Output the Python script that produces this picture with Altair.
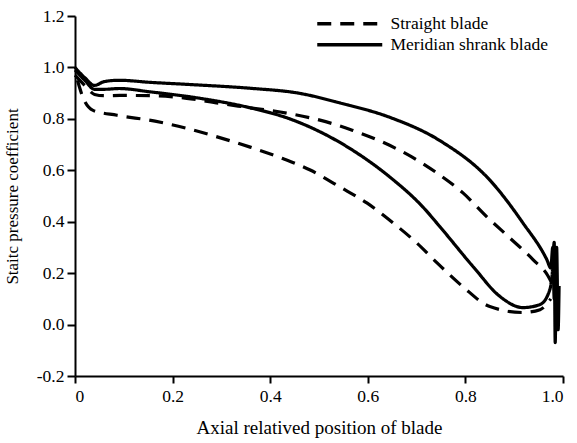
import altair as alt
import pandas as pd

# Meridian shrank blade - pressure side (upper solid)
ms_up_x = [0.0, 0.02, 0.04, 0.06, 0.09, 0.154, 0.25, 0.359, 0.461, 0.543, 0.645, 0.748, 0.85, 0.918, 0.967, 0.975, 0.979, 0.982, 0.985, 0.988]
ms_up_y = [1.0, 0.96, 0.93, 0.945, 0.95, 0.942, 0.932, 0.919, 0.899, 0.862, 0.806, 0.715, 0.562, 0.395, 0.252, 0.22, 0.30, 0.10, 0.28, 0.05]
# Meridian shrank blade - suction side (lower solid)
ms_lo_x = [0.0, 0.02, 0.04, 0.06, 0.09, 0.154, 0.256, 0.359, 0.44, 0.508, 0.578, 0.645, 0.713, 0.748, 0.816, 0.871, 0.918, 0.953, 0.973, 0.978, 0.982, 0.984, 0.987, 0.99, 0.992]
ms_lo_y = [0.99, 0.95, 0.915, 0.915, 0.918, 0.905, 0.88, 0.843, 0.8, 0.744, 0.667, 0.574, 0.457, 0.38, 0.225, 0.109, 0.066, 0.078, 0.136, 0.2, 0.32, -0.07, 0.3, -0.02, 0.15]
# Straight blade - pressure side (upper dashed)
st_up_x = [0.0, 0.02, 0.04, 0.06, 0.092, 0.16, 0.229, 0.297, 0.359, 0.434, 0.502, 0.568, 0.631, 0.691, 0.742, 0.795, 0.844, 0.891, 0.939, 0.969, 0.98]
st_up_y = [0.97, 0.93, 0.895, 0.89, 0.891, 0.89, 0.88, 0.86, 0.843, 0.822, 0.795, 0.756, 0.709, 0.651, 0.589, 0.512, 0.419, 0.337, 0.252, 0.19, 0.15]
# Straight blade - suction side (lower dashed)
st_lo_x = [0.005, 0.017, 0.037, 0.086, 0.164, 0.229, 0.293, 0.359, 0.424, 0.482, 0.543, 0.598, 0.652, 0.7, 0.742, 0.795, 0.85, 0.918, 0.953, 0.975]
st_lo_y = [0.95, 0.88, 0.833, 0.814, 0.791, 0.763, 0.729, 0.69, 0.647, 0.601, 0.535, 0.473, 0.395, 0.318, 0.24, 0.147, 0.07, 0.047, 0.058, 0.1]

series = ["Straight blade", "Meridian shrank blade"]
x_ticks = [0, 0.2, 0.4, 0.6, 0.8, 1.0]
y_ticks = [-0.2, 0.0, 0.2, 0.4, 0.6, 0.8, 1.0, 1.2]

rows = []
for name, curve, xs, ys in [
    (series[1], "ms_up", ms_up_x, ms_up_y),
    (series[1], "ms_lo", ms_lo_x, ms_lo_y),
    (series[0], "st_up", st_up_x, st_up_y),
    (series[0], "st_lo", st_lo_x, st_lo_y),
]:
    for i, (xv, yv) in enumerate(zip(xs, ys)):
        rows.append({"blade": name, "curve": curve, "x": xv, "y": yv, "i": i})
df = pd.DataFrame(rows)

font = "'Liberation Serif', 'Times New Roman', 'DejaVu Serif', serif"

chart = alt.Chart(df).mark_line(color="black", strokeWidth=3.2, interpolate="monotone").encode(
    x=alt.X("x:Q", scale=alt.Scale(domain=[0, 1.0], nice=False),
            axis=alt.Axis(title="Axial relatived position of blade", values=x_ticks,
                          labelExpr="datum.value == 0 ? '0' : format(datum.value, '.1f')",
                          grid=False, tickSize=7, tickWidth=2, domainWidth=2,
                          labelPadding=4, titlePadding=14,
                          labelFont=font, titleFont=font, labelFontSize=17.5, titleFontSize=19)),
    y=alt.Y("y:Q", scale=alt.Scale(domain=[-0.2, 1.2], nice=False),
            axis=alt.Axis(title="Staitc pressure coefficient", values=y_ticks,
                          labelExpr="datum.value < 0 ? '-' + format(-datum.value, '.1f') : format(datum.value, '.1f')",
                          grid=False, tickSize=8, tickWidth=2, domainWidth=2,
                          labelPadding=3, titlePadding=15,
                          labelFont=font, titleFont=font, labelFontSize=17.5, titleFontSize=17)),
    strokeDash=alt.StrokeDash("blade:N", scale=alt.Scale(domain=series, range=[[14, 9], [1, 0]]),
                              legend=alt.Legend(title=None, orient="none", legendX=266, legendY=-1,
                                                symbolType="M-6.5,0H6.5", symbolSize=100, symbolStrokeWidth=3.5,
                                                symbolStrokeColor="black", labelFontSize=17.5, labelFont=font,
                                                labelColor="black", rowPadding=2, labelOffset=32)),
    detail="curve:N",
    order="i:Q",
).properties(width=488, height=360)

chart = chart.configure_axis(
    labelColor="black", titleColor="black", domainColor="black", tickColor="black",
    titleFontWeight="normal"
).configure_view(stroke=None).properties(
    autosize=alt.AutoSizeParams(type="none"),
    padding={"left": 75, "top": 16, "right": 14, "bottom": 67}
)

chart.save("out.html", embed_options={"renderer": "svg", "actions": False})
